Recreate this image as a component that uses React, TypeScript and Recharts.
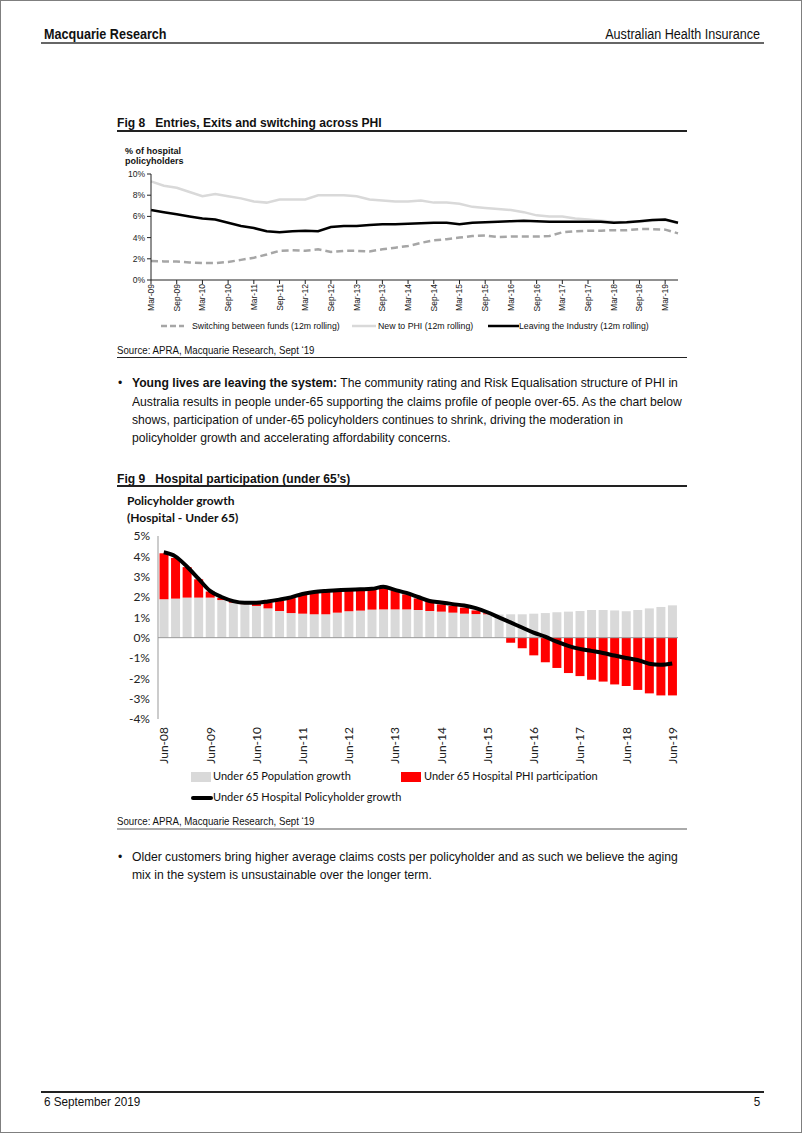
import React from "react";
import { Bar, ComposedChart, Line, LineChart, ReferenceLine, XAxis, YAxis } from "recharts";

const narrow = "'Liberation Sans', Arial, sans-serif";
const calibri = "Lato, 'Open Sans', sans-serif";

// Fig 8: quarterly, Mar-09 .. Jun-19
const fig8Quarters = [
  "Mar-09", "Jun-09", "Sep-09", "Dec-09", "Mar-10", "Jun-10", "Sep-10", "Dec-10",
  "Mar-11", "Jun-11", "Sep-11", "Dec-11", "Mar-12", "Jun-12", "Sep-12", "Dec-12",
  "Mar-13", "Jun-13", "Sep-13", "Dec-13", "Mar-14", "Jun-14", "Sep-14", "Dec-14",
  "Mar-15", "Jun-15", "Sep-15", "Dec-15", "Mar-16", "Jun-16", "Sep-16", "Dec-16",
  "Mar-17", "Jun-17", "Sep-17", "Dec-17", "Mar-18", "Jun-18", "Sep-18", "Dec-18",
  "Mar-19", "Jun-19",
];
const switching = [
  1.8, 1.75, 1.75, 1.65, 1.6, 1.6, 1.7, 1.9, 2.1, 2.4, 2.75, 2.8, 2.75, 2.9, 2.65, 2.75,
  2.75, 2.7, 2.9, 3.05, 3.2, 3.5, 3.75, 3.85, 4.0, 4.15, 4.2, 4.05, 4.1, 4.1, 4.1, 4.15,
  4.5, 4.6, 4.65, 4.65, 4.7, 4.7, 4.8, 4.8, 4.75, 4.4,
];
const newToPhi = [
  9.3, 8.9, 8.7, 8.3, 7.9, 8.1, 7.9, 7.7, 7.4, 7.3, 7.6, 7.6, 7.6, 8.0, 8.0, 8.0,
  7.9, 7.6, 7.5, 7.4, 7.4, 7.5, 7.3, 7.3, 7.2, 6.9, 6.8, 6.7, 6.6, 6.4, 6.1, 6.0,
  6.0, 5.8, 5.7, 5.6, 5.5, 5.45, 5.5, 5.6, 5.65, 5.35,
];
const leaving = [
  6.6, 6.4, 6.2, 6.0, 5.8, 5.7, 5.4, 5.1, 4.9, 4.6, 4.5, 4.6, 4.65, 4.6, 5.0, 5.1,
  5.1, 5.2, 5.25, 5.25, 5.3, 5.35, 5.4, 5.4, 5.25, 5.4, 5.45, 5.5, 5.55, 5.6, 5.55, 5.5,
  5.5, 5.5, 5.5, 5.5, 5.4, 5.45, 5.55, 5.65, 5.7, 5.4,
];

// Fig 9: quarterly, Jun-08 .. Jun-19
const fig9Quarters = [
  "Jun-08", "Sep-08", "Dec-08", "Mar-09", "Jun-09", "Sep-09", "Dec-09", "Mar-10", "Jun-10",
  "Sep-10", "Dec-10", "Mar-11", "Jun-11", "Sep-11", "Dec-11", "Mar-12", "Jun-12", "Sep-12",
  "Dec-12", "Mar-13", "Jun-13", "Sep-13", "Dec-13", "Mar-14", "Jun-14", "Sep-14", "Dec-14",
  "Mar-15", "Jun-15", "Sep-15", "Dec-15", "Mar-16", "Jun-16", "Sep-16", "Dec-16", "Mar-17",
  "Jun-17", "Sep-17", "Dec-17", "Mar-18", "Jun-18", "Sep-18", "Dec-18", "Mar-19", "Jun-19",
];
const popGrowth = [
  1.89, 1.92, 1.97, 1.97, 1.97, 1.85, 1.72, 1.65, 1.56, 1.44, 1.31, 1.21, 1.18, 1.15, 1.15,
  1.23, 1.3, 1.33, 1.38, 1.39, 1.39, 1.39, 1.36, 1.31, 1.28, 1.23, 1.18, 1.16, 1.15, 1.14,
  1.15, 1.15, 1.18, 1.21, 1.25, 1.28, 1.31, 1.36, 1.36, 1.34, 1.3, 1.36, 1.44, 1.51, 1.59,
];
const phiParticipation = [
  2.26, 2.0, 1.5, 0.9, 0.3, 0.1, 0.05, 0.03, 0.13, 0.3, 0.5, 0.76, 0.95, 1.07, 1.1,
  1.07, 1.03, 1.0, 0.97, 1.07, 0.94, 0.74, 0.57, 0.46, 0.36, 0.33, 0.3, 0.18, 0.05, 0,
  -0.25, -0.52, -0.87, -1.21, -1.49, -1.74, -1.89, -2.07, -2.16, -2.3, -2.38, -2.57, -2.74, -2.84, -2.84,
];
const policyholderGrowth = [
  4.2, 4.0, 3.5, 2.9, 2.3, 2.0, 1.8, 1.72, 1.72, 1.78, 1.87, 1.98, 2.15, 2.25, 2.3,
  2.33, 2.36, 2.38, 2.4, 2.5, 2.35, 2.2, 2.0, 1.8, 1.73, 1.65, 1.58, 1.45, 1.25, 1.0,
  0.75, 0.5, 0.25, 0.05, -0.2, -0.4, -0.55, -0.65, -0.75, -0.88, -1.0, -1.1, -1.28, -1.33, -1.27,
];

const fig8Data = fig8Quarters.map((q, i) => ({ q, switching: switching[i], newToPhi: newToPhi[i], leaving: leaving[i] }));
const fig9Data = fig9Quarters.map((q, i) => ({ q, pop: popGrowth[i], phi: phiParticipation[i], growth: policyholderGrowth[i] }));

function RotTick({ x, y, payload, size, font, gap }: any) {
  const ty = y + gap;
  return (
    <text x={x} y={ty} transform={`rotate(-90 ${x} ${ty})`} textAnchor="end" dominantBaseline="central"
      fontSize={size} fontFamily={font} fill="#222">
      {payload.value}
    </text>
  );
}

function Rule({ top, left, width, h = 1, color = "#222" }: any) {
  return <div style={{ position: "absolute", top, left, width, height: h, background: color }} />;
}

// Arial Narrow is not installed, so squeeze Liberation Sans a little
function T({ top, left, right, size = 13, bold = false, font = narrow, scale = 0.9, color = "#111", children }: any) {
  return (
    <div style={{
      position: "absolute", top, left, right, fontSize: size, fontWeight: bold ? 700 : 400, fontFamily: font, color,
      whiteSpace: "nowrap", lineHeight: 1, transform: `scaleX(${scale})`, transformOrigin: right !== undefined ? "right" : "left",
    }}>
      {children}
    </div>
  );
}

function EntriesChart() {
  return (
    <div style={{ position: "absolute", left: 100, top: 140 }}>
      <LineChart width={590} height={182} data={fig8Data} margin={{ top: 33, right: 13, left: 0, bottom: 0 }}>
        <YAxis domain={[0, 10]} ticks={[0, 2, 4, 6, 8, 10]} tickFormatter={(v) => `${v}%`} width={50}
          stroke="#222" tickSize={4} tick={{ fontSize: 8.5, fontFamily: narrow, fill: "#222" }} />
        <XAxis dataKey="q" interval={1} height={43} stroke="#222" tickSize={4}
          tick={<RotTick size={8.5} font={narrow} gap={-2} />} />
        <Line type="linear" dataKey="switching" stroke="#a6a6a6" strokeWidth={2.5} strokeDasharray="7 4" dot={false} isAnimationActive={false} />
        <Line type="linear" dataKey="newToPhi" stroke="#d9d9d9" strokeWidth={2.5} dot={false} isAnimationActive={false} />
        <Line type="linear" dataKey="leaving" stroke="#000" strokeWidth={2.5} dot={false} isAnimationActive={false} />
      </LineChart>
    </div>
  );
}

function ParticipationChart() {
  return (
    <div style={{ position: "absolute", left: 110, top: 525 }}>
      <ComposedChart width={577} height={243} data={fig9Data} stackOffset="sign" barCategoryGap="13%"
        margin={{ top: 10, right: 10, left: 0, bottom: 0 }}>
        <YAxis domain={[-4, 5]} ticks={[-4, -3, -2, -1, 0, 1, 2, 3, 4, 5]} tickFormatter={(v) => `${v}%`} width={47}
          stroke="#999" tickLine={false} tick={{ fontSize: 12, fontFamily: calibri, fill: "#222" }} />
        <XAxis dataKey="q" interval={3} height={50} axisLine={false} tickLine={false}
          tick={<RotTick size={12} font={calibri} gap={0} />} />
        <ReferenceLine y={0} stroke="#999" />
        <Bar dataKey="pop" stackId="a" fill="#d9d9d9" isAnimationActive={false} />
        <Bar dataKey="phi" stackId="a" fill="#ff0000" isAnimationActive={false} />
        <Line type="monotone" dataKey="growth" stroke="#000" strokeWidth={4} dot={false} isAnimationActive={false} />
      </ComposedChart>
    </div>
  );
}

export default function App() {
  return (
    <div style={{ position: "absolute", left: 0, top: 0, width: 802, height: 1133, boxSizing: "border-box", border: "1px solid #7f7f7f", background: "#fff", overflow: "hidden" }}>
      <T top={26} left={43} size={14} bold>Macquarie Research</T>
      <T top={26} right={41} size={14}>Australian Health Insurance</T>
      <Rule top={41} left={40} width={723} h={1.5} color="#666" />

      <T top={115} left={116} size={13} bold scale={0.93}>Fig 8&nbsp;&nbsp;&nbsp;Entries, Exits and switching across PHI</T>
      <Rule top={129} left={116} width={570} h={1.5} color="#222" />
      <T top={146} left={124} size={9} bold scale={1}>% of hospital</T>
      <T top={156} left={124} size={9} bold scale={1}>policyholders</T>
      <EntriesChart />
      <svg style={{ position: "absolute", left: 160, top: 320 }} width={24} height={10}>
        <line x1={0} y1={5} x2={23} y2={5} stroke="#a6a6a6" strokeWidth={2.5} strokeDasharray="6 3" />
      </svg>
      <T top={320} left={191} size={9.5} scale={0.92}>Switching between funds (12m rolling)</T>
      <svg style={{ position: "absolute", left: 351, top: 320 }} width={24} height={10}>
        <line x1={0} y1={5} x2={24} y2={5} stroke="#d9d9d9" strokeWidth={2.5} />
      </svg>
      <T top={320} left={377} size={9.5} scale={0.92}>New to PHI (12m rolling)</T>
      <svg style={{ position: "absolute", left: 487, top: 320 }} width={31} height={10}>
        <line x1={0} y1={5} x2={31} y2={5} stroke="#000" strokeWidth={2.5} />
      </svg>
      <T top={320} left={518} size={9.5} scale={0.92}>Leaving the Industry (12m rolling)</T>

      <T top={344} left={116} size={11} scale={0.88}>Source: APRA, Macquarie Research, Sept &#8216;19</T>
      <Rule top={356} left={116} width={570} h={1} color="#222" />

      <T top={375} left={117} size={13.5}>•</T>
      <T top={375} left={131} size={13.5}><b>Young lives are leaving the system:</b> The community rating and Risk Equalisation structure of PHI in</T>
      <T top={394} left={131} size={13.5}>Australia results in people under-65 supporting the claims profile of people over-65. As the chart below</T>
      <T top={412} left={131} size={13.5}>shows, participation of under-65 policyholders continues to shrink, driving the moderation in</T>
      <T top={430} left={131} size={13.5}>policyholder growth and accelerating affordability concerns.</T>

      <T top={471} left={116} size={13} bold scale={0.93}>Fig 9&nbsp;&nbsp;&nbsp;Hospital participation (under 65&#8217;s)</T>
      <Rule top={484} left={116} width={570} h={1.5} color="#222" />
      <T top={494} left={126} size={12} bold font={calibri} scale={1}>Policyholder growth</T>
      <T top={511} left={126} size={12} bold font={calibri} scale={1}>(Hospital - Under 65)</T>
      <ParticipationChart />
      <div style={{ position: "absolute", left: 190, top: 771, width: 20, height: 10, background: "#d9d9d9" }} />
      <T top={769} left={212} size={12} font={calibri} scale={0.92}>Under 65 Population growth</T>
      <div style={{ position: "absolute", left: 400, top: 771, width: 20, height: 10, background: "#ff0000" }} />
      <T top={769} left={423} size={12} font={calibri} scale={0.92}>Under 65 Hospital PHI participation</T>
      <div style={{ position: "absolute", left: 190, top: 795, width: 22, height: 4, background: "#000", borderRadius: 2 }} />
      <T top={790} left={212} size={12} font={calibri} scale={0.92}>Under 65 Hospital Policyholder growth</T>

      <T top={815} left={116} size={11} scale={0.88}>Source: APRA, Macquarie Research, Sept &#8216;19</T>
      <Rule top={827} left={116} width={570} h={2} color="#aaa" />

      <T top={849} left={117} size={13.5}>•</T>
      <T top={849} left={131} size={13.5}>Older customers bring higher average claims costs per policyholder and as such we believe the aging</T>
      <T top={867} left={131} size={13.5}>mix in the system is unsustainable over the longer term.</T>

      <Rule top={1090} left={40} width={723} h={1.5} color="#222" />
      <T top={1094} left={43} size={13}>6 September 2019</T>
      <T top={1094} right={41} size={13}>5</T>
    </div>
  );
}
